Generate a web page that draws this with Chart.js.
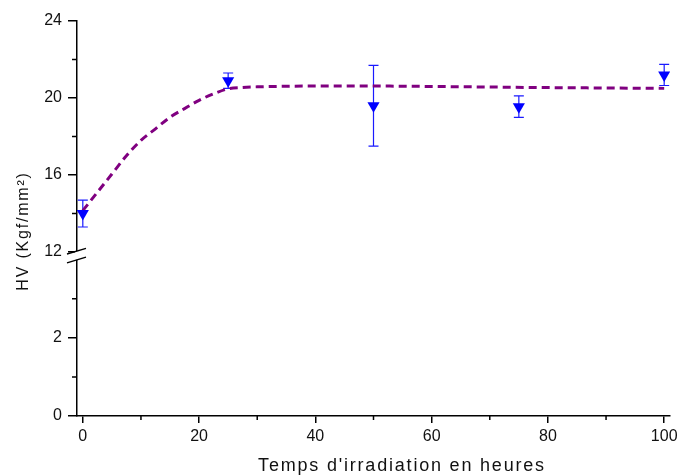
<!DOCTYPE html>
<html>
<head>
<meta charset="utf-8">
<script src="https://cdn.jsdelivr.net/npm/chart.js@4"></script>
<style>
  body { margin: 0; background: #fff; }
</style>
</head>
<body>
<canvas id="c" width="679" height="475"></canvas>
<script>
// mesures : heures d'irradiation, HV moyen, écart
const hours = [0, 25, 50, 75, 100];
const hv = [14.0, 20.9, 19.6, 19.55, 21.2];
const hvErr = [0.7, 0.4, 2.1, 0.56, 0.55];

// courbe d'ajustement
const fitHours = [0, 2.5, 5, 7.5, 10, 12.5, 15, 17.5, 20, 22.5, 25, 27.5, 30, 40, 50, 60, 70, 80, 90, 100];
const fitHv = [14.15, 15.1, 16.05, 17.0, 17.8, 18.4, 19.0, 19.45, 19.88, 20.22, 20.48, 20.55, 20.58, 20.62, 20.62, 20.6, 20.57, 20.54, 20.52, 20.5];

// graduations
const xMajor = [0, 20, 40, 60, 80, 100];
const xMinor = [10, 30, 50, 70, 90];
const yHighMajor = [12, 16, 20, 24];
const yHighMinor = [14, 18, 22];
const yLowMajor = [0, 2];
const yLowMinor = [1, 3];

const xTitle = "Temps d'irradiation en heures";
const yTitle = 'HV (Kgf/mm²)';

Chart.defaults.font.family = "'Liberation Sans', Arial, sans-serif";
Chart.defaults.font.size = 16;
Chart.defaults.color = '#111';

const errorBars = {
  id: 'errorBars',
  beforeDatasetsDraw(chart) {
    const { ctx } = chart;
    const xs = chart.scales.x, ys = chart.scales.y;
    ctx.save();
    ctx.strokeStyle = '#1a1aff';
    ctx.lineWidth = 1.2;
    hours.forEach((h, i) => {
      const px = xs.getPixelForValue(h);
      const top = ys.getPixelForValue(hv[i] + hvErr[i]);
      const bot = ys.getPixelForValue(hv[i] - hvErr[i]);
      ctx.beginPath();
      ctx.moveTo(px, top); ctx.lineTo(px, bot);
      ctx.moveTo(px - 5, top); ctx.lineTo(px + 5, top);
      ctx.moveTo(px - 5, bot); ctx.lineTo(px + 5, bot);
      ctx.stroke();
    });
    ctx.restore();
  }
};

const axisDecor = {
  id: 'axisDecor',
  afterDraw(chart) {
    const { ctx, chartArea } = chart;
    const xs = chart.scales.x, hi = chart.scales.y, lo = chart.scales.yLow;
    const ax = chartArea.left;
    ctx.save();
    ctx.strokeStyle = '#000';
    ctx.lineWidth = 1.5;
    // petites graduations
    ctx.beginPath();
    xMinor.forEach(v => {
      const p = xs.getPixelForValue(v);
      ctx.moveTo(p, chartArea.bottom); ctx.lineTo(p, chartArea.bottom + 4);
    });
    yHighMinor.forEach(v => {
      const p = hi.getPixelForValue(v);
      ctx.moveTo(ax, p); ctx.lineTo(ax - 5, p);
    });
    yLowMinor.forEach(v => {
      const p = lo.getPixelForValue(v);
      ctx.moveTo(ax, p); ctx.lineTo(ax - 5, p);
    });
    ctx.stroke();

    // coupure de l'axe
    const y1 = hi.getPixelForValue(12) - 1;
    const y2 = lo.getPixelForValue(4);
    ctx.fillStyle = '#fff';
    ctx.fillRect(ax - 2, y1, 4, y2 - y1);
    ctx.lineWidth = 1.4;
    ctx.beginPath();
    [y1, y2].forEach(y => {
      ctx.moveTo(ax - 10, y + 3); ctx.lineTo(ax + 9, y - 2.7);
    });
    ctx.stroke();

    // titres des axes
    ctx.fillStyle = '#111';
    ctx.textAlign = 'center';
    ctx.textBaseline = 'middle';
    if ('letterSpacing' in ctx) ctx.letterSpacing = '1.8px';
    ctx.font = "18px 'Liberation Sans', Arial, sans-serif";
    ctx.fillText(xTitle, chartArea.left + 325, chartArea.bottom + 50);
    ctx.translate(24, chartArea.top + 210);
    ctx.rotate(-Math.PI / 2);
    ctx.font = "16px 'Liberation Sans', Arial, sans-serif";
    ctx.fillText(yTitle, 0, 0);
    ctx.restore();
  }
};

const axisLine = { color: '#000', width: 1.5 };
const tickGrid = (len) => ({ drawOnChartArea: false, drawTicks: true, tickLength: len, color: '#000', lineWidth: 1.5 });
const fitY = s => { s.width = 77; s.paddingTop = 0; s.paddingBottom = 0; };

new Chart(document.getElementById('c'), {
  type: 'scatter',
  data: {
    datasets: [
      {
        label: 'HV',
        data: hours.map((h, i) => ({ x: h, y: hv[i] })),
        xAxisID: 'x',
        yAxisID: 'y',
        pointStyle: 'triangle',
        rotation: 180,
        pointRadius: 7,
        backgroundColor: '#0000ff',
        borderColor: '#0000ff',
        borderWidth: 0,
        order: 0,
      },
      {
        type: 'line',
        label: 'fit',
        data: fitHours.map((h, i) => ({ x: h, y: fitHv[i] })),
        xAxisID: 'x',
        yAxisID: 'y',
        borderColor: '#800080',
        borderWidth: 3,
        borderDash: [8, 5],
        pointRadius: 0,
        cubicInterpolationMode: 'monotone',
        fill: false,
        order: 1,
      },
    ],
  },
  options: {
    responsive: false,
    animation: false,
    layout: { padding: { left: 0, right: 9, top: 21, bottom: 0 } },
    plugins: { legend: { display: false }, tooltip: { enabled: false } },
    scales: {
      x: {
        type: 'linear',
        position: 'bottom',
        min: -1,
        max: 101,
        afterBuildTicks: s => { s.ticks = xMajor.map(v => ({ value: v })); },
        afterFit: s => { s.height = 59; s.paddingLeft = 0; s.paddingRight = 0; },
        grid: tickGrid(7),
        border: axisLine,
        ticks: { padding: 4 },
      },
      yLow: {
        type: 'linear',
        position: 'left',
        stack: 'hv',
        stackWeight: 1.64,
        min: 0,
        max: 4.2,
        afterBuildTicks: s => { s.ticks = yLowMajor.map(v => ({ value: v })); },
        afterFit: fitY,
        grid: tickGrid(9),
        border: axisLine,
        ticks: { padding: 6 },
      },
      y: {
        type: 'linear',
        position: 'left',
        stack: 'hv',
        stackWeight: 2.31,
        min: 12,
        max: 24,
        afterBuildTicks: s => { s.ticks = yHighMajor.map(v => ({ value: v })); },
        afterFit: fitY,
        grid: tickGrid(9),
        border: axisLine,
        ticks: { padding: 6 },
      },
    },
  },
  plugins: [errorBars, axisDecor],
});
</script>
</body>
</html>
